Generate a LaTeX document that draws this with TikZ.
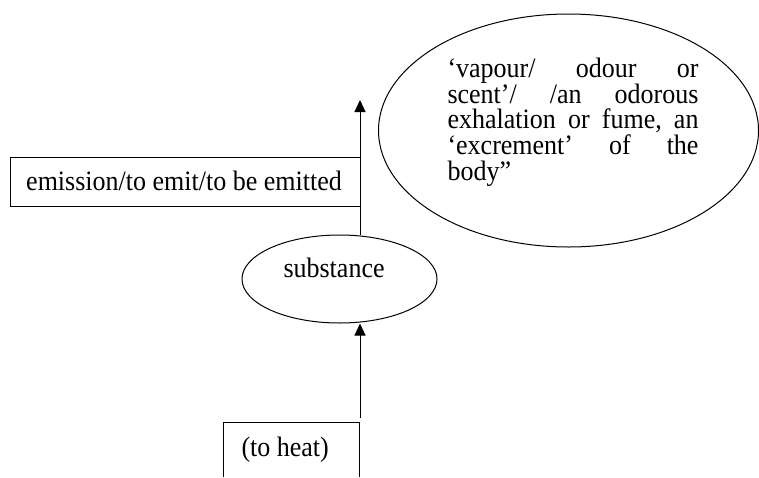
\documentclass[tikz,border=0pt]{standalone}
\usepackage{fontspec}
\usepackage{graphicx}
\setmainfont{Liberation Serif}
\usetikzlibrary{arrows.meta,shapes.geometric}
\newcommand{\tallt}[1]{\scalebox{1}[1.08]{#1}}
\begin{document}
\begin{tikzpicture}[x=1pt,y=-1pt,line width=1pt,
  box/.style={draw,rectangle,inner sep=0pt},
  oval/.style={draw,ellipse,inner sep=0pt},
  lbl/.style={inner sep=0pt,font=\fontsize{26}{23.8}\selectfont},
  arr/.style={-{Triangle[length=12pt,width=11pt]}}]
\useasboundingbox (0,0) rectangle (759,477);
% big ellipse
\node[oval,minimum width=380pt,minimum height=233pt] (big) at (568.5,130.5) {};
\node[lbl,anchor=base west] (bigt) at (447,77.5) {\tallt{\parbox[t]{251pt}{\fontsize{26}{23.8}\selectfont
\hbox to 251pt{‘vapour/\hfill odour\hfill or}
\hbox to 251pt{scent’/\hfill /an\hfill odorous}
\hbox to 251pt{exhalation\hfill or\hfill fume,\hfill an}
\hbox to 251pt{‘excrement’\hfill of\hfill the}
\hbox to 251pt{body”\hfill}}}};
% emission box
\node[box,minimum width=349.5pt,minimum height=49pt] (emit) at (185.25,181.5) {};
\node[lbl,anchor=base] (emitt) at (184,190) {\tallt{emission/to emit/to be emitted}};
% substance
\node[oval,minimum width=195pt,minimum height=88pt] (sub) at (339.5,279) {};
\node[lbl,anchor=base west] (subt) at (283,277) {\tallt{substance}};
% to heat box (open at bottom)
\coordinate (hbl) at (223,477);
\coordinate (htl) at (223,422);
\coordinate (htr) at (359,422);
\coordinate (hbr) at (359,477);
\draw (hbl) -- (htl) -- (htr) -- (hbr);
\node[lbl,anchor=base west] (heatt) at (241,456) {\tallt{(to heat)}};
% connectors
\coordinate (lowstart) at (360,418);
\coordinate (tip) at (360,100);
\draw[arr] (lowstart) -- (lowstart |- sub.south);
\draw[arr] (tip |- sub.north) -- (tip);
\end{tikzpicture}
\end{document}
